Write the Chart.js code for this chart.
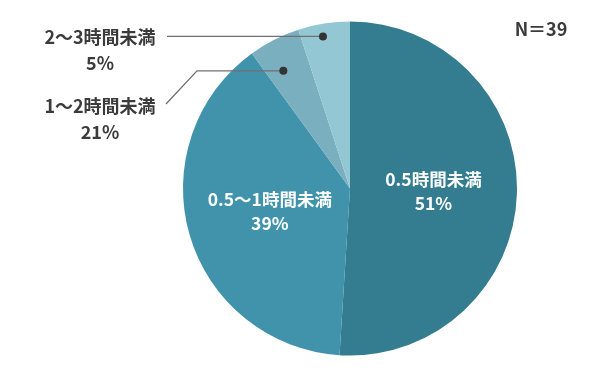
<!DOCTYPE html>
<html>
<head>
<meta charset="utf-8">
<script src="https://cdn.jsdelivr.net/npm/chart.js@4"></script>
<style>
  html, body { margin: 0; padding: 0; background: #fff; }
  #wrap { width: 597px; height: 378px; position: relative; }
</style>
</head>
<body>
<div id="wrap"><canvas id="chart"></canvas></div>
<script>
// Data
const categories = ["0.5時間未満", "0.5〜1時間未満", "1〜2時間未満", "2〜3時間未満"];
const shares = [51, 39, 5, 5];
const shareLabels = ["51%", "39%", "21%", "5%"];
const sliceColors = ["#347c90", "#4093aa", "#79afbf", "#94c7d4"];
const sampleLabel = "N＝39";

const FONT = "'Noto Sans CJK JP', 'Noto Sans', sans-serif";
const TEXT_COLOR = "#3b3b3b";
const LINE_COLOR = "#707070";

// Plugin: labels inside the big slices, callout labels for the small ones
const sliceLabels = {
    id: "sliceLabels",
    afterDatasetsDraw(chart) {
        const ctx = chart.ctx;
        const arcs = chart.getDatasetMeta(0).data;
        ctx.save();
        ctx.textAlign = "center";
        ctx.textBaseline = "middle";
        ctx.font = "bold 17.5px " + FONT;

        // inside labels
        [0, 1].forEach(i => {
            const p = arcs[i].tooltipPosition();
            ctx.fillStyle = "#ffffff";
            ctx.fillText(categories[i], p.x, p.y - 12);
            ctx.fillText(shareLabels[i], p.x, p.y + 12);
        });

        // callouts
        const dotAt = (i, t, f) => {
            const a = arcs[i];
            const ang = a.startAngle + (a.endAngle - a.startAngle) * t;
            const r = a.outerRadius * f;
            return {x: a.x + Math.cos(ang) * r, y: a.y + Math.sin(ang) * r};
        };

        ctx.strokeStyle = LINE_COLOR;
        ctx.lineWidth = 1.3;

        // 2〜3時間未満
        let d = dotAt(3, 0.44, 0.925);
        ctx.beginPath();
        ctx.moveTo(d.x, d.y);
        ctx.lineTo(167, d.y);
        ctx.stroke();
        // 1〜2時間未満
        let d2 = dotAt(2, 0.36, 0.81);
        ctx.beginPath();
        ctx.moveTo(d2.x, d2.y);
        ctx.lineTo(197, d2.y);
        ctx.lineTo(166, 104);
        ctx.stroke();

        ctx.fillStyle = "#333333";
        [d, d2].forEach(p => {
            ctx.beginPath();
            ctx.arc(p.x, p.y, 4, 0, Math.PI * 2);
            ctx.fill();
        });

        ctx.font = "bold 18px " + FONT;
        ctx.fillStyle = TEXT_COLOR;
        ctx.fillText(categories[3], 100, 37);
        ctx.fillText(shareLabels[3], 100, 63);
        ctx.fillText(categories[2], 100, 106);
        ctx.fillText(shareLabels[2], 100, 132);

        ctx.fillText(sampleLabel, 541, 29);
        ctx.restore();
    }
};

new Chart(document.querySelector("#chart"), {
    type: "pie",
    data: {
        labels: categories,
        datasets: [{
            data: shares,
            backgroundColor: sliceColors,
            borderWidth: 0
        }]
    },
    options: {
        responsive: true,
        maintainAspectRatio: false,
        animation: false,
        layout: {
            padding: {top: 21, bottom: 22, left: 183, right: 80}
        },
        plugins: {
            legend: {display: false},
            tooltip: {enabled: false}
        }
    },
    plugins: [sliceLabels]
});
</script>
</body>
</html>
